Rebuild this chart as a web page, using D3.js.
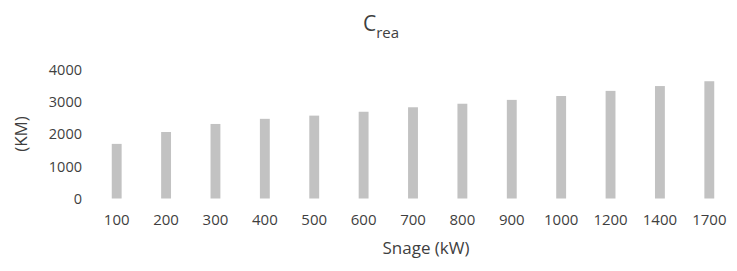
<!DOCTYPE html>
<html>
<head>
<meta charset="utf-8">
<script src="https://cdn.jsdelivr.net/npm/d3@7"></script>
<style>
  html, body { margin: 0; padding: 0; background: #fff; }
  svg { display: block; }
  text { font-family: "Open Sans", sans-serif; fill: #3f3f3f; }
</style>
</head>
<body>
<svg id="chart" width="737" height="271"></svg>
<script>
const categories = ["100","200","300","400","500","600","700","800","900","1000","1200","1400","1700"];
const values = [1700, 2070, 2320, 2480, 2580, 2700, 2840, 2950, 3070, 3190, 3350, 3500, 3650];
const yTicks = [0, 1000, 2000, 3000, 4000];

const svg = d3.select("#chart");
const W = 737, H = 271;
const m = { left: 92, right: 3, top: 70, bottom: 72.5 };

const x = d3.scaleBand().domain(categories).range([m.left, W - m.right]).paddingInner(0.8).paddingOuter(0.4);
const y = d3.scaleLinear().domain([0, 4000]).range([H - m.bottom, m.top]);

svg.selectAll("rect.bar").data(values).join("rect")
  .attr("class", "bar")
  .attr("x", (d, i) => x(categories[i]))
  .attr("width", x.bandwidth())
  .attr("y", d => y(d))
  .attr("height", d => y(0) - y(d))
  .attr("fill", "#c2c2c2");

const yAxis = d3.axisLeft(y).tickValues(yTicks).tickSize(0).tickPadding(0).tickFormat(d3.format("d"));
const gy = svg.append("g").attr("transform", `translate(${m.left - 10},0)`).call(yAxis);
gy.select(".domain").remove();
gy.selectAll("text").style("font-size", "14.5px").attr("fill", "#3f3f3f");

const xAxis = d3.axisBottom(x).tickSize(0).tickPadding(0);
const gx = svg.append("g").attr("transform", `translate(0,${y(0) + 16})`).call(xAxis);
gx.select(".domain").remove();
gx.selectAll("text").style("font-size", "15px").attr("fill", "#3f3f3f");

// Title
const title = svg.append("text").attr("x", 363).attr("y", 31).attr("text-anchor", "start").style("font-size", "21px");
title.append("tspan").text("C");
title.append("tspan").attr("dy", 7).style("font-size", "15px").text("rea");

// Axis titles
svg.append("text").attr("x", 426).attr("y", 254).attr("text-anchor", "middle").style("font-size", "17px").text("Snage (kW)");
svg.append("text").attr("transform", `translate(27,134) rotate(-90)`).attr("text-anchor", "middle").style("font-size", "17px").text("(KM)");
</script>
</body>
</html>
